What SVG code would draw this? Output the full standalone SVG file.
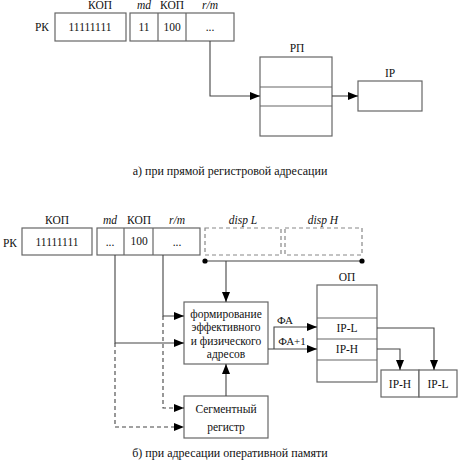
<svg xmlns="http://www.w3.org/2000/svg" width="458" height="460" viewBox="0 0 458 460" font-family="Liberation Serif, Times New Roman, serif">
<style>
text{font-size:11.5px;fill:#111;text-anchor:middle}
.it{font-style:italic}
.cap{font-size:12px}
.box{fill:#fff;stroke:#666;stroke-width:1.2}
.dbox{fill:#fff;stroke:#888;stroke-width:1.2;stroke-dasharray:4,3}
.ln{fill:none;stroke:#444;stroke-width:1.1}
.dl{fill:none;stroke:#444;stroke-width:1.1;stroke-dasharray:4,3}
</style>
<defs>
<marker id="ah" markerUnits="userSpaceOnUse" markerWidth="10" markerHeight="8" refX="10" refY="4" orient="auto">
<path d="M0,0 L10,4 L0,8 z" fill="#000"/>
</marker>
</defs>
<rect width="458" height="460" fill="#fff"/>

<!-- Part a -->
<g id="a-rk">
<text x="42" y="31">РК</text>
<text x="100" y="9">КОП</text>
<rect class="box" x="55" y="13" width="71" height="28"/>
<text x="90" y="31">11111111</text>
</g>
<g id="a-modrm">
<text x="144" y="9" class="it">md</text>
<text x="172" y="9">КОП</text>
<text x="210" y="9" class="it">r/m</text>
<rect class="box" x="130" y="13" width="104" height="28"/>
<line class="box" x1="158" y1="13" x2="158" y2="41"/>
<line class="box" x1="186" y1="13" x2="186" y2="41"/>
<text x="144" y="31">11</text>
<text x="172" y="31">100</text>
<text x="210" y="31">...</text>
</g>
<g id="a-rp">
<text x="297" y="52">РП</text>
<rect class="box" x="260" y="57" width="72" height="79"/>
<line class="box" x1="260" y1="87" x2="332" y2="87"/>
<line class="box" x1="260" y1="106" x2="332" y2="106"/>
</g>
<g id="a-ip">
<text x="390" y="77">IP</text>
<rect class="box" x="358" y="81" width="64" height="30"/>
</g>
<text class="cap" x="230" y="175">а) при прямой регистровой адресации</text>

<!-- Part b -->
<g id="b-rk">
<text x="10" y="247">РК</text>
<text x="57" y="224">КОП</text>
<rect class="box" x="22" y="228" width="70" height="27"/>
<text x="57" y="246">11111111</text>
</g>
<g id="b-modrm">
<text x="110" y="224" class="it">md</text>
<text x="139" y="224">КОП</text>
<text x="177" y="224" class="it">r/m</text>
<rect class="box" x="97" y="228" width="103" height="27"/>
<line class="box" x1="124" y1="228" x2="124" y2="255"/>
<line class="box" x1="153" y1="228" x2="153" y2="255"/>
<text x="110" y="246">...</text>
<text x="139" y="245">100</text>
<text x="177" y="246">...</text>
</g>
<g id="b-displ">
<text x="243" y="224" class="it">disp L</text>
<rect class="dbox" x="205" y="228" width="76" height="27"/>
</g>
<g id="b-disph">
<text x="323" y="224" class="it">disp H</text>
<rect class="dbox" x="285" y="228" width="77" height="27"/>
</g>
<g id="b-form">
<rect class="box" x="184" y="302" width="84" height="62"/>
<text x="226" y="318">формирование</text>
<text x="226" y="331">эффективного</text>
<text x="226" y="345">и физического</text>
<text x="226" y="358">адресов</text>
</g>
<g id="b-seg">
<rect class="box" x="184" y="396" width="84" height="42"/>
<text x="226" y="413">Сегментный</text>
<text x="226" y="431">регистр</text>
</g>
<g id="b-op">
<text x="347" y="281">ОП</text>
<rect class="box" x="317" y="285" width="60" height="97"/>
<line class="box" x1="317" y1="318" x2="377" y2="318"/>
<line class="box" x1="317" y1="339" x2="377" y2="339"/>
<line class="box" x1="317" y1="360" x2="377" y2="360"/>
<text x="347" y="332">IP-L</text>
<text x="347" y="353">IP-H</text>
</g>
<g id="b-ip">
<rect class="box" x="381" y="370" width="38" height="27"/>
<rect class="box" x="419" y="370" width="38" height="27"/>
<text x="400" y="388">IP-H</text>
<text x="438" y="388">IP-L</text>
</g>
<text class="cap" x="230" y="457">б) при адресации оперативной памяти</text>

<g id="connectors">
<polyline class="ln" points="210,41 210,96 260,96" marker-end="url(#ah)"/>
<line class="ln" x1="332" y1="96" x2="358" y2="96" marker-end="url(#ah)"/>

<line class="ln" x1="205" y1="261" x2="362" y2="261"/>
<circle cx="205" cy="261" r="2.6" fill="#000"/>
<circle cx="362" cy="261" r="2.6" fill="#000"/>
<line class="ln" x1="226" y1="261" x2="226" y2="302" marker-end="url(#ah)"/>

<polyline class="ln" points="115,255 115,343 184,343" marker-end="url(#ah)"/>
<polyline class="dl" points="115,343 115,427 184,427" marker-end="url(#ah)"/>
<polyline class="ln" points="163,255 163,316 184,316" marker-end="url(#ah)"/>
<polyline class="dl" points="163,316 163,408 184,408" marker-end="url(#ah)"/>

<line class="ln" x1="226" y1="396" x2="226" y2="364" marker-end="url(#ah)"/>

<line class="ln" x1="268" y1="349" x2="317" y2="349" marker-end="url(#ah)"/>
<polyline class="ln" points="274,349 274,327 317,327" marker-end="url(#ah)"/>
<text x="285" y="324" style="font-size:11px">ФА</text>
<text x="292" y="345" style="font-size:11px">ФА+1</text>

<polyline class="ln" points="377,328 434,328 434,370" marker-end="url(#ah)"/>
<polyline class="ln" points="377,349 400,349 400,370" marker-end="url(#ah)"/>
</g>
</svg>
